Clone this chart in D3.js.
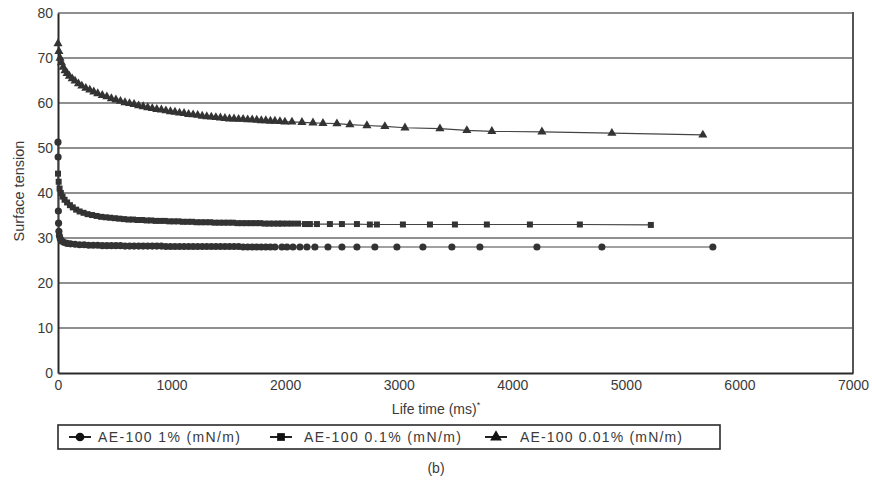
<!DOCTYPE html>
<html>
<head>
<meta charset="utf-8">
<script src="https://cdn.jsdelivr.net/npm/d3@7"></script>
<style>
  html, body { margin: 0; padding: 0; background: #fff; }
  svg { display: block; font-family: "Liberation Sans", Arial, sans-serif; }
</style>
</head>
<body>
<svg id="chart" width="872" height="486"></svg>
<script>
// Bubble lifetime (ms) and surface tension (mN/m) for each concentration.
const lifetime1 = [0, 1, 3, 5, 8, 12, 20, 35, 55, 80, 110, 150, 190, 230, 270, 310, 350, 390, 430, 470, 510, 550, 590, 630, 670, 710, 750, 790, 830, 870, 910, 950, 990, 1030, 1070, 1110, 1150, 1190, 1230, 1270, 1310, 1350, 1390, 1430, 1470, 1510, 1550, 1590, 1630, 1670, 1710, 1750, 1790, 1830, 1870, 1910, 1972, 2016, 2069, 2130, 2192, 2262, 2377, 2500, 2632, 2790, 2984, 3213, 3468, 3715, 4217, 4789, 5766];
const tension1  = [51.3, 48.0, 36.0, 33.3, 31.5, 30.5, 29.8, 29.3, 29.0, 28.8, 28.7, 28.6, 28.5, 28.5, 28.4, 28.4, 28.4, 28.3, 28.3, 28.3, 28.3, 28.3, 28.2, 28.2, 28.2, 28.2, 28.2, 28.2, 28.2, 28.2, 28.2, 28.1, 28.1, 28.1, 28.1, 28.1, 28.1, 28.1, 28.1, 28.1, 28.1, 28.1, 28.1, 28.1, 28.1, 28.1, 28.1, 28.1, 28.0, 28.0, 28.0, 28.0, 28.0, 28.0, 28.0, 28.0, 28.0, 28.0, 28.0, 28.0, 28.0, 28.0, 28.0, 28.0, 28.0, 28.0, 28.0, 28.0, 28.0, 28.0, 28.0, 28.0, 28.0];

const lifetime2 = [0, 6, 14, 25, 40, 58, 80, 105, 130, 160, 190, 225, 260, 300, 340, 380, 420, 460, 500, 540, 580, 620, 660, 700, 740, 780, 820, 860, 900, 940, 980, 1020, 1060, 1100, 1140, 1180, 1220, 1260, 1300, 1340, 1380, 1420, 1460, 1500, 1540, 1580, 1620, 1660, 1700, 1740, 1780, 1820, 1860, 1900, 1940, 1972, 2016, 2060, 2113, 2174, 2218, 2280, 2394, 2500, 2632, 2746, 2808, 3037, 3275, 3495, 3776, 4155, 4595, 5220];
const tension2  = [44.3, 42.5, 41.0, 40.0, 39.2, 38.5, 37.9, 37.3, 36.8, 36.3, 35.9, 35.6, 35.3, 35.1, 34.9, 34.7, 34.6, 34.5, 34.4, 34.3, 34.2, 34.1, 34.1, 34.0, 34.0, 33.9, 33.9, 33.8, 33.8, 33.8, 33.7, 33.7, 33.7, 33.6, 33.6, 33.6, 33.5, 33.5, 33.5, 33.5, 33.4, 33.4, 33.4, 33.4, 33.4, 33.3, 33.3, 33.3, 33.3, 33.3, 33.3, 33.2, 33.2, 33.2, 33.2, 33.2, 33.2, 33.2, 33.2, 33.1, 33.1, 33.1, 33.1, 33.1, 33.1, 33.0, 33.0, 33.0, 33.0, 33.0, 33.0, 33.0, 33.0, 32.9];

const lifetime3 = [0, 8, 18, 30, 45, 62, 80, 100, 125, 150, 180, 210, 245, 280, 315, 350, 390, 430, 470, 510, 550, 590, 630, 670, 710, 750, 790, 830, 870, 910, 950, 990, 1030, 1070, 1110, 1150, 1190, 1230, 1270, 1310, 1350, 1390, 1430, 1470, 1510, 1550, 1590, 1630, 1670, 1710, 1750, 1790, 1830, 1870, 1910, 1954, 1998, 2060, 2148, 2245, 2333, 2456, 2570, 2720, 2878, 3055, 3363, 3600, 3820, 4261, 4877, 5678];
const tension3  = [73.2, 71.5, 70.0, 69.0, 68.0, 67.2, 66.6, 66.0, 65.4, 64.9, 64.3, 63.8, 63.3, 62.9, 62.5, 62.1, 61.7, 61.4, 61.0, 60.7, 60.4, 60.1, 59.9, 59.7, 59.4, 59.2, 59.0, 58.8, 58.6, 58.5, 58.3, 58.1, 58.0, 57.8, 57.7, 57.5, 57.4, 57.3, 57.1, 57.0, 56.9, 56.8, 56.7, 56.6, 56.5, 56.5, 56.4, 56.4, 56.3, 56.3, 56.2, 56.1, 56.1, 56.0, 56.0, 55.9, 55.8, 55.8, 55.7, 55.6, 55.5, 55.4, 55.2, 55.0, 54.8, 54.5, 54.3, 53.9, 53.7, 53.6, 53.3, 52.9];

const seriesNames = ["AE-100 1% (mN/m)", "AE-100 0.1% (mN/m)", "AE-100 0.01% (mN/m)"];
const xTicks = [0, 1000, 2000, 3000, 4000, 5000, 6000, 7000];
const yTicks = [0, 10, 20, 30, 40, 50, 60, 70, 80];

const series = [
  { name: seriesNames[0], t: lifetime1, v: tension1, symbol: d3.symbolCircle, size: 40 },
  { name: seriesNames[1], t: lifetime2, v: tension2, symbol: d3.symbolSquare, size: 36 },
  { name: seriesNames[2], t: lifetime3, v: tension3, symbol: d3.symbolTriangle, size: 36 }
];

const svg = d3.select("#chart");
const plotL = 58, plotR = 853, plotT = 13, plotB = 373;
const ink = "#2a2a2a";
const textInk = "#3a3a3a";

const x = d3.scaleLinear().domain([0, 7000]).range([plotL, plotR]);
const y = d3.scaleLinear().domain([0, 80]).range([plotB, plotT]);

// horizontal grid
svg.append("g")
  .selectAll("line")
  .data(yTicks.filter(d => d > 0))
  .join("line")
  .attr("x1", plotL).attr("x2", plotR)
  .attr("y1", d => y(d)).attr("y2", d => y(d))
  .attr("stroke", "#8f8f8f").attr("stroke-width", 1.8);

// right frame edge
svg.append("line")
  .attr("x1", plotR).attr("x2", plotR).attr("y1", plotT - 1).attr("y2", plotB)
  .attr("stroke", "#555").attr("stroke-width", 2);

// axes
const xAxis = d3.axisBottom(x).tickValues(xTicks).tickSize(0).tickPadding(7).tickFormat(d3.format("d"));
const yAxis = d3.axisLeft(y).tickValues(yTicks).tickSize(0).tickPadding(5).tickFormat(d3.format("d"));

const gx = svg.append("g").attr("transform", `translate(0,${plotB})`).call(xAxis);
const gy = svg.append("g").attr("transform", `translate(${plotL},0)`).call(yAxis);
[gx, gy].forEach(g => {
  g.select(".domain").attr("stroke", ink).attr("stroke-width", 2);
  g.selectAll("text").attr("fill", textInk).attr("font-size", 14)
    .attr("font-family", "'Liberation Sans', Arial, sans-serif");
});

// series lines and markers
const line = d3.line().x(d => x(d[0])).y(d => y(d[1]));
series.forEach(s => {
  const pts = s.t.map((t, i) => [t, s.v[i]]);
  svg.append("path")
    .datum(pts)
    .attr("d", line)
    .attr("fill", "none")
    .attr("stroke", "#444")
    .attr("stroke-width", 1.2);
  svg.append("g")
    .selectAll("path")
    .data(pts)
    .join("path")
    .attr("transform", d => `translate(${x(d[0])},${y(d[1])})`)
    .attr("d", d3.symbol().type(s.symbol).size(s.size))
    .attr("fill", "#333");
});

// axis titles
svg.append("text")
  .attr("transform", `translate(24,191) rotate(-90)`)
  .attr("text-anchor", "middle")
  .attr("font-size", 14.5)
  .attr("fill", textInk)
  .text("Surface tension");

const xt = svg.append("text")
  .attr("x", 436).attr("y", 414)
  .attr("text-anchor", "middle")
  .attr("font-size", 14)
  .attr("fill", textInk);
xt.append("tspan").text("Life time (ms)");
xt.append("tspan").attr("dy", -6).attr("font-size", 9).text("*");

// legend
const lg = svg.append("g");
lg.append("rect")
  .attr("x", 58).attr("y", 425).attr("width", 662).attr("height", 24)
  .attr("fill", "#fff").attr("stroke", ink).attr("stroke-width", 1.6);
const legendPos = [{ sx: 80, tx: 98, w: 142 }, { sx: 281, tx: 304, w: 157 }, { sx: 496, tx: 520, w: 162 }];
series.forEach((s, i) => {
  const p = legendPos[i];
  lg.append("line")
    .attr("x1", p.sx - 11).attr("x2", p.sx + 11)
    .attr("y1", 437).attr("y2", 437)
    .attr("stroke", "#222").attr("stroke-width", 2);
  lg.append("path")
    .attr("transform", `translate(${p.sx},437)`)
    .attr("d", d3.symbol().type(s.symbol).size(60))
    .attr("fill", "#111");
  lg.append("text")
    .attr("x", p.tx).attr("y", 442)
    .attr("font-size", 14)
    .attr("textLength", p.w)
    .attr("lengthAdjust", "spacing")
    .attr("fill", textInk)
    .text(s.name);
});

svg.append("text")
  .attr("x", 436).attr("y", 473)
  .attr("text-anchor", "middle")
  .attr("font-size", 14)
  .attr("fill", textInk)
  .text("(b)");
</script>
</body>
</html>
